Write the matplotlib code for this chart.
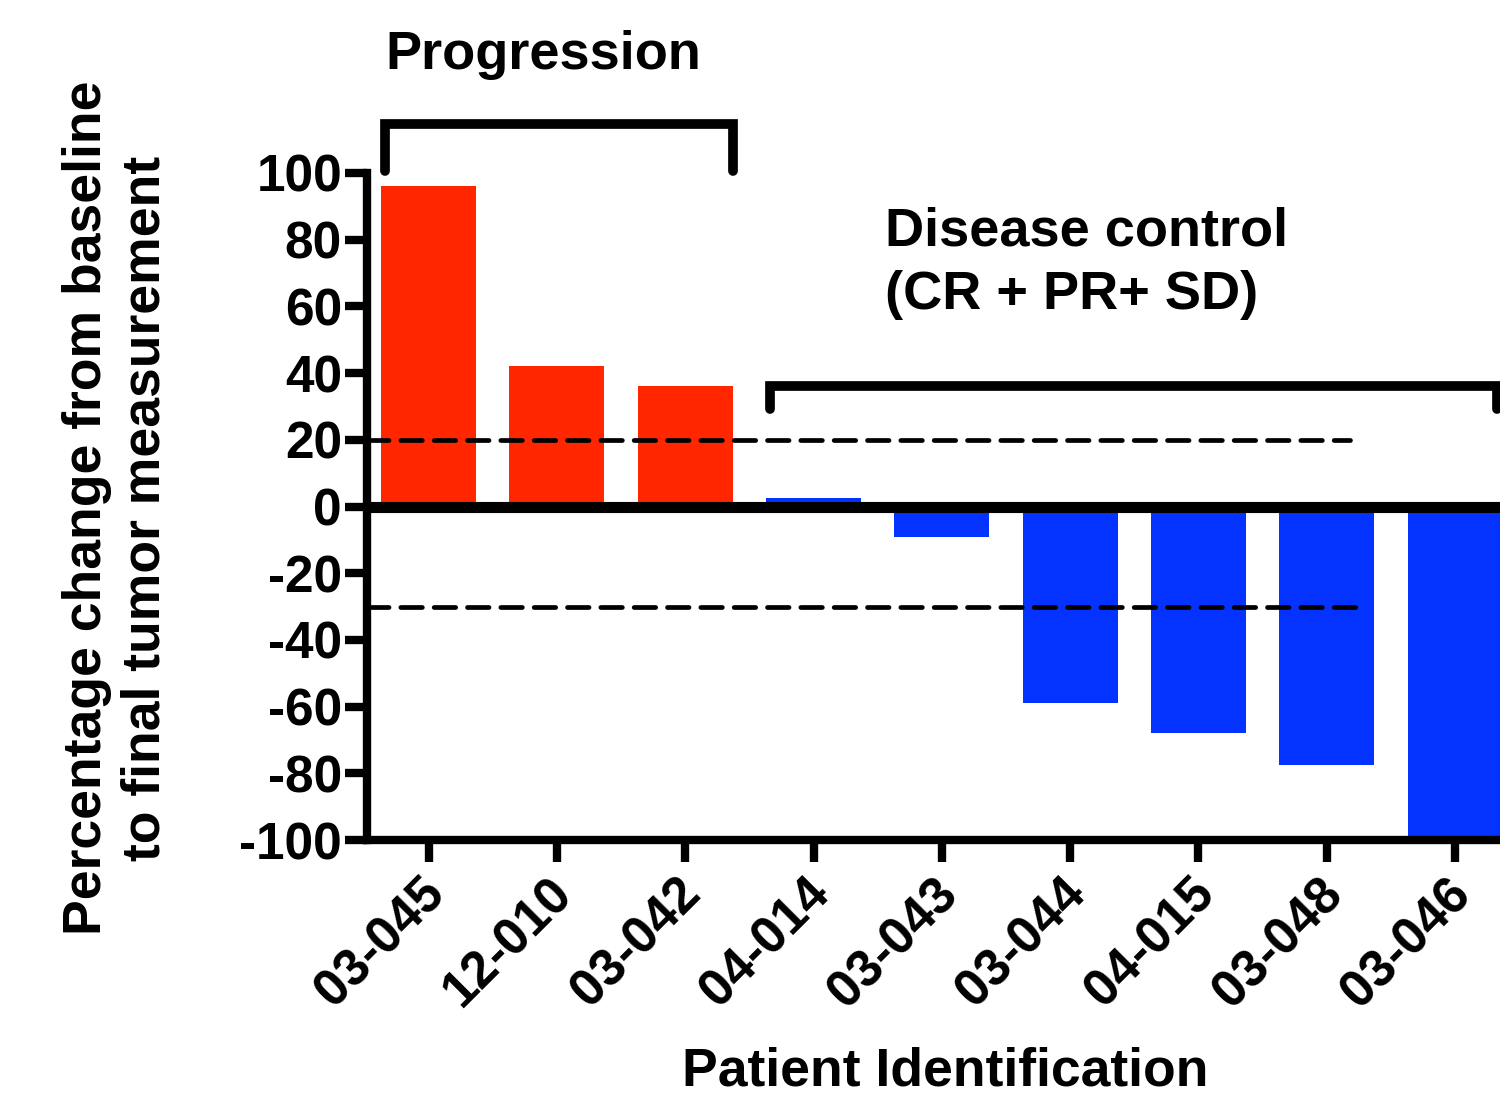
import matplotlib
matplotlib.use("Agg")
import matplotlib.pyplot as plt
import matplotlib.transforms as mtransforms

plt.rcParams['font.family'] = ['Liberation Sans', 'DejaVu Sans']
plt.rcParams['font.weight'] = 'bold'
plt.rcParams['lines.scale_dashes'] = False

patients = ["03-045", "12-010", "03-042", "04-014", "03-043", "03-044", "04-015", "03-048", "03-046"]
pct_change = [96, 42, 36, 2.5, -9, -59, -68, -77.5, -100]
groups = ["progression"] * 3 + ["control"] * 6
group_colors = {"progression": "#FF2600", "control": "#0433FF"}
yticks = [-100, -80, -60, -40, -20, 0, 20, 40, 60, 80, 100]
thresholds = [20, -30]

fig = plt.figure(figsize=(15, 11.04), dpi=100)
ax = fig.add_axes([367/1500, 1-840/1104, (1500-367)/1500, (840-173)/1104])

x = list(range(len(patients)))
ax.bar(x, pct_change, width=0.74, color=[group_colors[g] for g in groups], zorder=2)

ax.set_xlim(-0.48, 8.35)
ax.set_ylim(-100, 100)

ax.axhline(0, color='black', lw=8, zorder=3, solid_capstyle='butt')
for t, xe in zip(thresholds, [7.18, 7.24]):
    ax.plot([-0.48, xe], [t, t], color='black', lw=3.4, dashes=(15.5, 8.5),
            dash_capstyle='round', zorder=4, clip_on=False)

for s in ['top', 'right']:
    ax.spines[s].set_visible(False)
for s in ['left', 'bottom']:
    ax.spines[s].set_linewidth(6)
    ax.spines[s].set_capstyle('projecting')

ax.set_yticks(yticks)
ax.set_yticklabels([str(v) for v in yticks])
ax.set_xticks(x)
ax.set_xticklabels(patients, rotation=45, ha='right', rotation_mode='anchor')
ax.tick_params(axis='both', length=16, width=6, labelsize=37, direction='out')
ax.tick_params(axis='y', pad=2)
ax.tick_params(axis='x', pad=5)
offset = mtransforms.ScaledTranslation(-9/100, 0, fig.dpi_scale_trans)
for lab in ax.get_xticklabels():
    lab.set_transform(lab.get_transform() + offset)
for lab in ax.get_xticklabels() + ax.get_yticklabels():
    lab.set_fontweight('bold')

# brackets
ax.plot([-0.34, -0.34, 2.37, 2.37], [100.6, 114.7, 114.7, 100.6], color='black', lw=7,
        solid_joinstyle='miter', solid_capstyle='round', clip_on=False, zorder=5)
ax.plot([2.66, 2.66, 8.33, 8.33], [29.3, 36.2, 36.2, 29.3], color='black', lw=7,
        solid_joinstyle='miter', solid_capstyle='round', clip_on=False, zorder=5)

fig.text(385/1500, 1-55/1104, "Progression", fontsize=39, fontweight='bold',
         ha='left', va='center')
fig.text(885/1500, 1-232/1104, "Disease control", fontsize=39, fontweight='bold',
         ha='left', va='center')
fig.text(885/1500, 1-295/1104, "(CR + PR+ SD)", fontsize=39, fontweight='bold',
         ha='left', va='center')

fig.text(945/1500, 1-1072/1104, "Patient Identification", fontsize=38.5, fontweight='bold',
         ha='center', va='center')
fig.text(116/1500, 1-508/1104, "Percentage change from baseline\nto final tumor measurement",
         fontsize=38.5, fontweight='bold', rotation=90, ha='center', va='center',
         multialignment='center', linespacing=1.22)

fig.savefig("out.png", dpi=100)
